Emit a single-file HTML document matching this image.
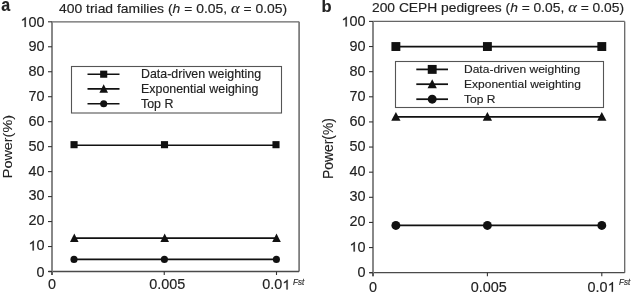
<!DOCTYPE html>
<html><head><meta charset="utf-8"><style>
html,body{margin:0;padding:0;background:#fff;width:631px;height:295px;overflow:hidden}
svg{display:block;will-change:transform}
text{font-family:"Liberation Sans",sans-serif;fill:#222;stroke:#222;stroke-width:0.15px}
</style></head><body>
<svg width="631" height="295" viewBox="0 0 631 295">
<line x1="52.00" y1="21.80" x2="299.10" y2="21.80" stroke="#666" stroke-width="1.3"/>
<line x1="299.10" y1="21.80" x2="299.10" y2="271.50" stroke="#777" stroke-width="1.7"/>
<line x1="48.50" y1="271.50" x2="299.10" y2="271.50" stroke="#4a4a4a" stroke-width="1.3"/>
<line x1="52.00" y1="21.80" x2="52.00" y2="275.00" stroke="#888" stroke-width="2"/>
<line x1="48.00" y1="271.50" x2="52.00" y2="271.50" stroke="#333" stroke-width="1.1"/>
<g transform="translate(36.48,276.70) scale(1.03,1)" fill="#222"><text x="0.00" y="0" font-size="14">0</text></g>
<line x1="48.00" y1="246.53" x2="52.00" y2="246.53" stroke="#333" stroke-width="1.1"/>
<g transform="translate(28.46,250.43) scale(1.03,1)" fill="#222"><text x="7.79" y="0" font-size="14">0</text><path transform="translate(0.00,0) scale(0.00684,-0.00654)" d="M763 0H583V1147Q518 1085 412.5 1023Q307 961 223 930V1104Q374 1175 487 1276Q600 1377 647 1472H763V0Z" stroke="#222" stroke-width="0.2" vector-effect="non-scaling-stroke"/></g>
<line x1="48.00" y1="221.56" x2="52.00" y2="221.56" stroke="#333" stroke-width="1.1"/>
<g transform="translate(28.46,225.46) scale(1.03,1)" fill="#222"><text x="0.00 7.79" y="0" font-size="14">20</text></g>
<line x1="48.00" y1="196.59" x2="52.00" y2="196.59" stroke="#333" stroke-width="1.1"/>
<g transform="translate(28.46,200.49) scale(1.03,1)" fill="#222"><text x="0.00 7.79" y="0" font-size="14">30</text></g>
<line x1="48.00" y1="171.62" x2="52.00" y2="171.62" stroke="#333" stroke-width="1.1"/>
<g transform="translate(28.46,175.52) scale(1.03,1)" fill="#222"><text x="0.00 7.79" y="0" font-size="14">40</text></g>
<line x1="48.00" y1="146.65" x2="52.00" y2="146.65" stroke="#333" stroke-width="1.1"/>
<g transform="translate(28.46,150.55) scale(1.03,1)" fill="#222"><text x="0.00 7.79" y="0" font-size="14">50</text></g>
<line x1="48.00" y1="121.68" x2="52.00" y2="121.68" stroke="#333" stroke-width="1.1"/>
<g transform="translate(28.46,125.58) scale(1.03,1)" fill="#222"><text x="0.00 7.79" y="0" font-size="14">60</text></g>
<line x1="48.00" y1="96.71" x2="52.00" y2="96.71" stroke="#333" stroke-width="1.1"/>
<g transform="translate(28.46,100.61) scale(1.03,1)" fill="#222"><text x="0.00 7.79" y="0" font-size="14">70</text></g>
<line x1="48.00" y1="71.74" x2="52.00" y2="71.74" stroke="#333" stroke-width="1.1"/>
<g transform="translate(28.46,75.64) scale(1.03,1)" fill="#222"><text x="0.00 7.79" y="0" font-size="14">80</text></g>
<line x1="48.00" y1="46.77" x2="52.00" y2="46.77" stroke="#333" stroke-width="1.1"/>
<g transform="translate(28.46,50.67) scale(1.03,1)" fill="#222"><text x="0.00 7.79" y="0" font-size="14">90</text></g>
<line x1="48.00" y1="21.80" x2="52.00" y2="21.80" stroke="#333" stroke-width="1.1"/>
<g transform="translate(20.44,26.90) scale(1.03,1)" fill="#222"><text x="7.79 15.57" y="0" font-size="14">00</text><path transform="translate(0.00,0) scale(0.00684,-0.00654)" d="M763 0H583V1147Q518 1085 412.5 1023Q307 961 223 930V1104Q374 1175 487 1276Q600 1377 647 1472H763V0Z" stroke="#222" stroke-width="0.2" vector-effect="non-scaling-stroke"/></g>
<line x1="52.00" y1="271.50" x2="52.00" y2="275.00" stroke="#333" stroke-width="1.1"/>
<g transform="translate(47.99,289.40) scale(1.03,1)" fill="#222"><text x="0.00" y="0" font-size="14">0</text></g>
<line x1="164.25" y1="271.50" x2="164.25" y2="275.00" stroke="#333" stroke-width="1.1"/>
<g transform="translate(149.31,289.40) scale(1.03,1)" fill="#222"><text x="0.00 7.79 11.68 19.46 27.25" y="0" font-size="14">0.005</text></g>
<line x1="276.50" y1="271.50" x2="276.50" y2="275.00" stroke="#333" stroke-width="1.1"/>
<g transform="translate(262.27,289.40) scale(1.03,1)" fill="#222"><text x="0.00 7.79 11.68" y="0" font-size="14">0.0</text><path transform="translate(19.46,0) scale(0.00684,-0.00654)" d="M763 0H583V1147Q518 1085 412.5 1023Q307 961 223 930V1104Q374 1175 487 1276Q600 1377 647 1472H763V0Z" stroke="#222" stroke-width="0.2" vector-effect="non-scaling-stroke"/></g>
<text transform="translate(293,284.6) scale(0.85,1)" font-size="9.45" font-style="italic">Fst</text>
<line x1="74.05" y1="145.28" x2="276.00" y2="145.28" stroke="#111" stroke-width="1.6"/>
<rect x="70.50" y="141.13" width="7.1" height="7.1" fill="#111"/>
<rect x="160.95" y="141.13" width="7.1" height="7.1" fill="#111"/>
<rect x="272.45" y="141.13" width="7.1" height="7.1" fill="#111"/>
<line x1="74.30" y1="238.17" x2="276.50" y2="238.17" stroke="#111" stroke-width="1.6"/>
<polygon points="74.30,233.60 78.60,241.90 70.00,241.90" fill="#111"/>
<polygon points="164.70,233.60 169.00,241.90 160.40,241.90" fill="#111"/>
<polygon points="276.50,233.60 280.80,241.90 272.20,241.90" fill="#111"/>
<line x1="74.00" y1="259.39" x2="276.40" y2="259.39" stroke="#111" stroke-width="1.6"/>
<circle cx="74.00" cy="259.39" r="3.55" fill="#111"/>
<circle cx="164.40" cy="259.39" r="3.55" fill="#111"/>
<circle cx="276.40" cy="259.39" r="3.55" fill="#111"/>
<rect x="71.5" y="66.5" width="210.0" height="46.5" fill="#fff" stroke="#555" stroke-width="1.1"/>
<line x1="87.50" y1="74.20" x2="119.50" y2="74.20" stroke="#111" stroke-width="1.6"/>
<rect x="100.15" y="70.65" width="7.1" height="7.1" fill="#111"/>
<text transform="translate(141.00,78.16) scale(1.035,1)" font-size="12.0" text-anchor="start" >Data-driven weighting</text>
<line x1="87.50" y1="88.90" x2="119.50" y2="88.90" stroke="#111" stroke-width="1.6"/>
<polygon points="103.70,84.34 108.00,92.64 99.40,92.64" fill="#111"/>
<text transform="translate(141.00,92.86) scale(1.035,1)" font-size="12.0" text-anchor="start" >Exponential weighing</text>
<line x1="87.50" y1="103.80" x2="119.50" y2="103.80" stroke="#111" stroke-width="1.6"/>
<circle cx="103.70" cy="103.80" r="3.55" fill="#111"/>
<text transform="translate(141.00,107.76) scale(1.035,1)" font-size="12.0" text-anchor="start" >Top R</text>
<text transform="translate(11.9,178.15) rotate(-90) scale(1.09,1)" font-size="13.2" style="stroke-width:0.1px">Power(%)</text>
<text transform="translate(59.00,13.10) scale(1.07,1)" font-size="13.0" text-anchor="start" >400 triad families (<tspan font-style="italic">h</tspan> = 0.05, <tspan font-family="Liberation Serif" font-style="italic" font-size="15.5">α</tspan> = 0.05)</text>
<text transform="translate(1.3,10.8) scale(1,1.1)" font-size="16" font-weight="bold">a</text>
<line x1="373.00" y1="21.40" x2="624.70" y2="21.40" stroke="#666" stroke-width="1.3"/>
<line x1="624.70" y1="21.40" x2="624.70" y2="272.70" stroke="#666" stroke-width="1.3"/>
<line x1="369.50" y1="272.70" x2="624.70" y2="272.70" stroke="#4a4a4a" stroke-width="1.3"/>
<line x1="373.00" y1="21.40" x2="373.00" y2="276.20" stroke="#888" stroke-width="2"/>
<line x1="369.00" y1="272.70" x2="373.00" y2="272.70" stroke="#333" stroke-width="1.1"/>
<g transform="translate(357.48,276.70) scale(1.03,1)" fill="#222"><text x="0.00" y="0" font-size="14">0</text></g>
<line x1="369.00" y1="247.57" x2="373.00" y2="247.57" stroke="#333" stroke-width="1.1"/>
<g transform="translate(349.46,251.57) scale(1.03,1)" fill="#222"><text x="7.79" y="0" font-size="14">0</text><path transform="translate(0.00,0) scale(0.00684,-0.00654)" d="M763 0H583V1147Q518 1085 412.5 1023Q307 961 223 930V1104Q374 1175 487 1276Q600 1377 647 1472H763V0Z" stroke="#222" stroke-width="0.2" vector-effect="non-scaling-stroke"/></g>
<line x1="369.00" y1="222.44" x2="373.00" y2="222.44" stroke="#333" stroke-width="1.1"/>
<g transform="translate(349.46,226.44) scale(1.03,1)" fill="#222"><text x="0.00 7.79" y="0" font-size="14">20</text></g>
<line x1="369.00" y1="197.31" x2="373.00" y2="197.31" stroke="#333" stroke-width="1.1"/>
<g transform="translate(349.46,201.31) scale(1.03,1)" fill="#222"><text x="0.00 7.79" y="0" font-size="14">30</text></g>
<line x1="369.00" y1="172.18" x2="373.00" y2="172.18" stroke="#333" stroke-width="1.1"/>
<g transform="translate(349.46,176.18) scale(1.03,1)" fill="#222"><text x="0.00 7.79" y="0" font-size="14">40</text></g>
<line x1="369.00" y1="147.05" x2="373.00" y2="147.05" stroke="#333" stroke-width="1.1"/>
<g transform="translate(349.46,151.05) scale(1.03,1)" fill="#222"><text x="0.00 7.79" y="0" font-size="14">50</text></g>
<line x1="369.00" y1="121.92" x2="373.00" y2="121.92" stroke="#333" stroke-width="1.1"/>
<g transform="translate(349.46,125.92) scale(1.03,1)" fill="#222"><text x="0.00 7.79" y="0" font-size="14">60</text></g>
<line x1="369.00" y1="96.79" x2="373.00" y2="96.79" stroke="#333" stroke-width="1.1"/>
<g transform="translate(349.46,100.79) scale(1.03,1)" fill="#222"><text x="0.00 7.79" y="0" font-size="14">70</text></g>
<line x1="369.00" y1="71.66" x2="373.00" y2="71.66" stroke="#333" stroke-width="1.1"/>
<g transform="translate(349.46,75.66) scale(1.03,1)" fill="#222"><text x="0.00 7.79" y="0" font-size="14">80</text></g>
<line x1="369.00" y1="46.53" x2="373.00" y2="46.53" stroke="#333" stroke-width="1.1"/>
<g transform="translate(349.46,50.53) scale(1.03,1)" fill="#222"><text x="0.00 7.79" y="0" font-size="14">90</text></g>
<line x1="369.00" y1="21.40" x2="373.00" y2="21.40" stroke="#333" stroke-width="1.1"/>
<g transform="translate(341.44,26.40) scale(1.03,1)" fill="#222"><text x="7.79 15.57" y="0" font-size="14">00</text><path transform="translate(0.00,0) scale(0.00684,-0.00654)" d="M763 0H583V1147Q518 1085 412.5 1023Q307 961 223 930V1104Q374 1175 487 1276Q600 1377 647 1472H763V0Z" stroke="#222" stroke-width="0.2" vector-effect="non-scaling-stroke"/></g>
<line x1="373.00" y1="272.70" x2="373.00" y2="276.20" stroke="#333" stroke-width="1.1"/>
<g transform="translate(368.99,291.70) scale(1.03,1)" fill="#222"><text x="0.00" y="0" font-size="14">0</text></g>
<line x1="487.40" y1="272.70" x2="487.40" y2="276.20" stroke="#333" stroke-width="1.1"/>
<g transform="translate(470.66,291.70) scale(1.03,1)" fill="#222"><text x="0.00 7.79 11.68 19.46 27.25" y="0" font-size="14">0.005</text></g>
<line x1="601.80" y1="272.70" x2="601.80" y2="276.20" stroke="#333" stroke-width="1.1"/>
<g transform="translate(587.57,291.70) scale(1.03,1)" fill="#222"><text x="0.00 7.79 11.68" y="0" font-size="14">0.0</text><path transform="translate(19.46,0) scale(0.00684,-0.00654)" d="M763 0H583V1147Q518 1085 412.5 1023Q307 961 223 930V1104Q374 1175 487 1276Q600 1377 647 1472H763V0Z" stroke="#222" stroke-width="0.2" vector-effect="non-scaling-stroke"/></g>
<text transform="translate(619,284.8) scale(0.85,1)" font-size="9.45" font-style="italic">Fst</text>
<line x1="395.88" y1="46.53" x2="601.80" y2="46.53" stroke="#111" stroke-width="1.75"/>
<rect x="391.43" y="42.08" width="8.9" height="8.9" fill="#111"/>
<rect x="482.95" y="42.08" width="8.9" height="8.9" fill="#111"/>
<rect x="597.35" y="42.08" width="8.9" height="8.9" fill="#111"/>
<line x1="395.88" y1="116.89" x2="601.80" y2="116.89" stroke="#111" stroke-width="1.75"/>
<polygon points="395.88,112.05 400.53,120.85 391.23,120.85" fill="#111"/>
<polygon points="487.40,112.05 492.05,120.85 482.75,120.85" fill="#111"/>
<polygon points="601.80,112.05 606.45,120.85 597.15,120.85" fill="#111"/>
<line x1="395.88" y1="225.46" x2="601.80" y2="225.46" stroke="#111" stroke-width="1.75"/>
<circle cx="395.88" cy="225.46" r="4.45" fill="#111"/>
<circle cx="487.40" cy="225.46" r="4.45" fill="#111"/>
<circle cx="601.80" cy="225.46" r="4.45" fill="#111"/>
<rect x="395.5" y="61.5" width="208.0" height="46.0" fill="#fff" stroke="#555" stroke-width="1.1"/>
<line x1="416.30" y1="69.40" x2="448.00" y2="69.40" stroke="#111" stroke-width="1.75"/>
<rect x="427.75" y="64.95" width="8.9" height="8.9" fill="#111"/>
<text transform="translate(464.00,73.29) scale(1.02,1)" font-size="11.8" text-anchor="start" >Data-driven weighting</text>
<line x1="416.30" y1="84.20" x2="448.00" y2="84.20" stroke="#111" stroke-width="1.75"/>
<polygon points="432.20,79.36 436.85,88.16 427.55,88.16" fill="#111"/>
<text transform="translate(464.00,88.09) scale(1.02,1)" font-size="11.8" text-anchor="start" >Exponential weighting</text>
<line x1="416.30" y1="99.20" x2="448.00" y2="99.20" stroke="#111" stroke-width="1.75"/>
<circle cx="432.20" cy="99.20" r="4.45" fill="#111"/>
<text transform="translate(464.00,103.09) scale(1.02,1)" font-size="11.8" text-anchor="start" >Top R</text>
<text transform="translate(332.7,179.0) rotate(-90) scale(1.0,1)" font-size="13.9" style="stroke-width:0.1px">Power(%)</text>
<text transform="translate(372.00,12.20) scale(1.063,1)" font-size="13.0" text-anchor="start" >200 CEPH pedigrees (<tspan font-style="italic">h</tspan> = 0.05, <tspan font-family="Liberation Serif" font-style="italic" font-size="15.5">α</tspan> = 0.05)</text>
<text transform="translate(321.4,12.3) scale(1,1)" font-size="16.5" font-weight="bold">b</text>
</svg></body></html>
